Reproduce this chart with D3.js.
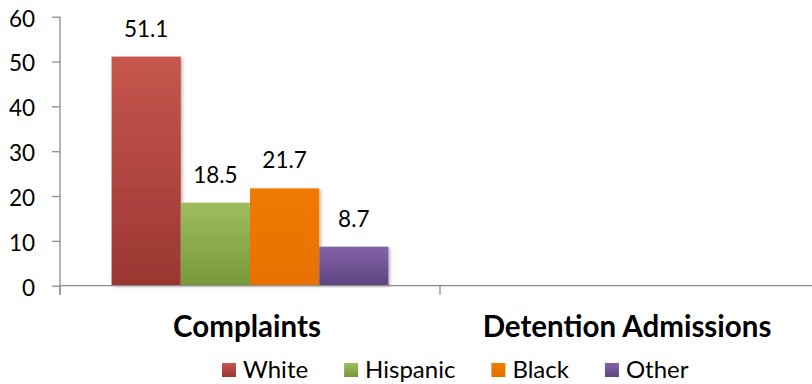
<!DOCTYPE html>
<html><head><meta charset="utf-8">
<script src="https://cdn.jsdelivr.net/npm/d3@7"></script>
<style>
html,body{margin:0;padding:0;background:#fff;}
svg{display:block;font-family:Lato,"Open Sans",sans-serif;}
</style></head>
<body>
<svg id="chart" width="812" height="384"></svg>
<script>
const categories = ["Complaints", "Detention Admissions"];
const seriesNames = ["White", "Hispanic", "Black", "Other"];
const complaintsValues = [51.1, 18.5, 21.7, 8.7];
const detentionValues = [null, null, null, null];
const yTicks = [0, 10, 20, 30, 40, 50, 60];
const seriesColors = [
  {top: "#c6564f", bottom: "#9b3632"},
  {top: "#9fbd5c", bottom: "#779838"},
  {top: "#f07a00", bottom: "#e87000"},
  {top: "#8363a8", bottom: "#5d4680"}
];

const svg = d3.select("#chart");
const x0 = d3.scaleBand().domain(categories).range([60, 820]).paddingInner(0).paddingOuter(0);
const x1 = d3.scaleBand().domain(seriesNames).range([0, x0.bandwidth()]).paddingOuter(0.745).paddingInner(0);
const y = d3.scaleLinear().domain([0, 60]).range([285.7, 16.7]);

const defs = svg.append("defs");
seriesColors.forEach((c, i) => {
  const g = defs.append("linearGradient").attr("id", "g" + i).attr("x1", 0).attr("y1", 0).attr("x2", 0).attr("y2", 1);
  g.append("stop").attr("offset", "0%").attr("stop-color", c.top);
  g.append("stop").attr("offset", "100%").attr("stop-color", c.bottom);
});
const f = defs.append("filter").attr("id", "sh").attr("x", "-20%").attr("y", "-5%").attr("width", "150%").attr("height", "110%");
f.append("feGaussianBlur").attr("in", "SourceAlpha").attr("stdDeviation", 1.5).attr("result", "b");
f.append("feOffset").attr("in", "b").attr("dx", 2).attr("dy", 1).attr("result", "o");
f.append("feComponentTransfer").attr("in", "o").attr("result", "o2").append("feFuncA").attr("type", "linear").attr("slope", 0.25);
const fm = f.append("feMerge");
fm.append("feMergeNode").attr("in", "o2");
fm.append("feMergeNode").attr("in", "SourceGraphic");

const axisColor = "#8c8c8c";

// y axis
const yAxis = d3.axisLeft(y).tickValues(yTicks).tickSize(8).tickPadding(0).tickFormat(d3.format("d"));
const ya = svg.append("g").attr("transform", "translate(60,0)").call(yAxis);
ya.select(".domain").remove();
ya.selectAll(".tick line").attr("stroke", axisColor).attr("stroke-width", 1.3);
ya.selectAll(".tick text").attr("x", -25).attr("dy", "0.42em").attr("fill", "#000")
  .style("font-size", "22.5px").style("font-family", "Lato,sans-serif").attr("text-anchor", "end");
svg.append("line").attr("x1", 60).attr("x2", 60).attr("y1", y(60)).attr("y2", y(0) + 9)
  .attr("stroke", axisColor).attr("stroke-width", 1.3);

// data rows
const data = categories.map((c, ci) => ({
  cat: c,
  vals: seriesNames.map((s, si) => ({s, si, v: ci === 0 ? complaintsValues[si] : detentionValues[si]}))
}));

const groups = svg.append("g").selectAll("g").data(data).join("g")
  .attr("transform", d => `translate(${x0(d.cat)},0)`);

groups.selectAll("rect").data(d => d.vals.filter(v => v.v != null)).join("rect")
  .attr("x", d => x1(d.s)).attr("width", x1.bandwidth())
  .attr("y", d => y(d.v)).attr("height", d => y(0) - y(d.v))
  .attr("fill", d => `url(#g${d.si})`).attr("filter", "url(#sh)");

groups.selectAll("text.val").data(d => d.vals.filter(v => v.v != null)).join("text")
  .attr("class", "val")
  .attr("x", d => x1(d.s) + x1.bandwidth() / 2)
  .attr("y", d => y(d.v) - 20)
  .attr("text-anchor", "middle").style("font-size", "22.5px").attr("fill", "#000")
  .text(d => d3.format(".1f")(d.v));

// x axis
svg.append("line").attr("x1", 60).attr("x2", 812).attr("y1", y(0)).attr("y2", y(0))
  .attr("stroke", axisColor).attr("stroke-width", 1.3);
const xTickPos = categories.map(c => x0(c)).concat([x0.range()[1]]);
svg.selectAll("line.xt").data(xTickPos).join("line").attr("class", "xt")
  .attr("x1", d => d).attr("x2", d => d).attr("y1", y(0)).attr("y2", y(0) + 9)
  .attr("stroke", axisColor).attr("stroke-width", 1.3);
svg.selectAll("text.cat").data(categories).join("text").attr("class", "cat")
  .attr("x", d => x0(d) + x0.bandwidth() / 2 - 3).attr("y", 337)
  .attr("text-anchor", "middle").style("font-size", "29.5px").style("font-weight", "bold").attr("fill", "#000")
  .text(d => d);

// legend
const leg = svg.append("g");
let lx = 222;
seriesNames.forEach((s, i) => {
  leg.append("rect").attr("x", lx).attr("y", 363).attr("width", 14).attr("height", 14).attr("fill", `url(#g${i})`);
  const t = leg.append("text").attr("x", lx + 21).attr("y", 378).style("font-size", "24px").attr("fill", "#000").text(s);
  lx += 21 + t.node().getComputedTextLength() + 36;
});
</script>
</body></html>
